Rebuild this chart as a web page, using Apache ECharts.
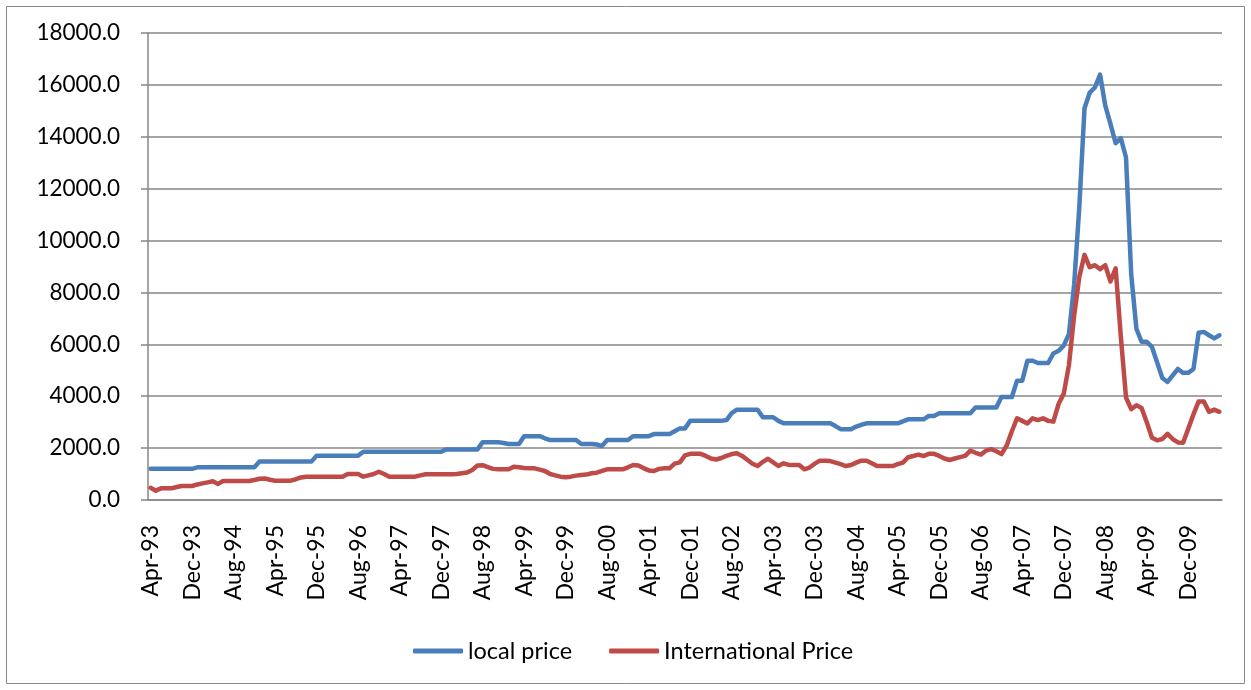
<!DOCTYPE html>
<html>
<head>
<meta charset="utf-8">
<script src="https://cdn.jsdelivr.net/npm/echarts@6/dist/echarts.min.js"></script>
<style>
  html, body { margin: 0; padding: 0; background: #fff; }
  #chart { width: 1251px; height: 690px; }
</style>
</head>
<body>
<div id="chart"></div>
<script>
// Monthly prices, Apr-93 through Jun-10
const monthNames = ['Jan','Feb','Mar','Apr','May','Jun','Jul','Aug','Sep','Oct','Nov','Dec'];
const startYear = 1993, startMonth = 3, monthCount = 207;

const localPrice = [
  1200,1200,1200,1200,1200,1200,1200,1200,1200,1260,1260,1260,
  1260,1260,1260,1260,1260,1260,1260,1260,1260,1480,1480,1480,
  1480,1480,1480,1480,1480,1480,1480,1480,1710,1710,1710,1710,
  1710,1710,1710,1710,1710,1860,1860,1860,1860,1860,1860,1860,
  1860,1860,1860,1860,1860,1860,1860,1860,1860,1950,1950,1950,
  1950,1950,1950,1950,2230,2230,2230,2230,2200,2160,2160,2160,
  2460,2460,2460,2460,2380,2310,2310,2310,2310,2310,2310,2160,
  2160,2160,2140,2080,2310,2310,2310,2310,2310,2460,2460,2460,
  2460,2540,2540,2540,2540,2650,2760,2760,3050,3050,3050,3050,
  3050,3050,3050,3080,3350,3480,3480,3480,3480,3480,3190,3190,
  3190,3050,2955,2955,2955,2955,2955,2955,2955,2955,2955,2955,
  2850,2730,2730,2730,2830,2900,2955,2955,2955,2955,2955,2955,
  2955,3030,3110,3110,3110,3110,3240,3240,3340,3340,3340,3340,
  3340,3340,3340,3570,3570,3570,3570,3570,3970,3970,3970,4600,
  4600,5370,5370,5280,5280,5280,5650,5750,5950,6400,8300,11300,
  15100,15700,15900,16400,15200,14500,13750,13950,13200,8700,6600,6100,
  6100,5900,5300,4700,4550,4800,5050,4900,4900,5050,6450,6480,
  6350,6230,6350
];

const internationalPrice = [
  470,360,450,450,450,500,540,540,540,600,640,680,
  720,620,735,735,735,735,735,735,770,820,830,780,
  745,745,745,745,800,870,900,900,900,900,900,900,
  900,900,1000,1000,1000,900,950,1000,1090,1000,900,900,
  900,900,900,900,950,990,990,990,990,990,990,1000,
  1030,1060,1156,1330,1340,1270,1200,1182,1182,1182,1285,1260,
  1230,1220,1220,1170,1118,1000,950,900,874,900,940,964,
  980,1030,1054,1120,1182,1182,1182,1182,1260,1349,1330,1230,
  1140,1118,1200,1220,1220,1400,1450,1720,1780,1780,1780,1700,
  1600,1560,1620,1700,1770,1800,1700,1550,1400,1310,1470,1590,
  1450,1310,1414,1350,1349,1349,1183,1250,1400,1516,1516,1500,
  1440,1380,1310,1350,1440,1516,1516,1420,1310,1310,1310,1310,
  1380,1440,1650,1696,1750,1696,1780,1780,1700,1600,1542,1600,
  1650,1700,1900,1820,1750,1900,1960,1880,1770,2100,2650,3150,
  3050,2950,3150,3080,3150,3050,3020,3700,4100,5200,7100,8600,
  9450,8970,9050,8900,9050,8420,8930,6300,3950,3500,3650,3550,
  3000,2400,2300,2350,2550,2350,2220,2210,2750,3300,3800,3800,
  3400,3480,3400
];

const yTicks = [0, 2000, 4000, 6000, 8000, 10000, 12000, 14000, 16000, 18000];

const categories = [];
for (let k = 0; k < monthCount; k++) {
  const m = (startMonth + k) % 12;
  const y = startYear + Math.floor((startMonth + k) / 12);
  categories.push(monthNames[m] + '-' + String(y % 100).padStart(2, '0'));
}

const FONT = 'Lato, "Liberation Sans", sans-serif';
const GRID_COLOR = '#878787';

const chart = echarts.init(document.getElementById('chart'), null, { renderer: 'canvas' });
chart.setOption({
  animation: false,
  backgroundColor: '#ffffff',
  textStyle: { fontFamily: FONT },
  graphic: [{
    type: 'rect',
    shape: { x: 6.5, y: 6.5, width: 1238, height: 677 },
    style: { fill: null, stroke: '#8a8a8a', lineWidth: 1 },
    silent: true
  }],
  grid: { left: 148, right: 29, top: 33, bottom: 190, containLabel: false, outerBoundsMode: 'none' },
  legend: {
    data: ['local price', 'International Price'],
    left: 408,
    top: 634,
    icon: 'roundRect',
    itemWidth: 50,
    itemHeight: 5,
    itemGap: 37,
    textStyle: { fontFamily: FONT, fontSize: 23.5, color: '#000' }
  },
  xAxis: {
    type: 'category',
    data: categories,
    boundaryGap: true,
    axisLine: { lineStyle: { color: GRID_COLOR, width: 1.5 } },
    axisTick: { interval: 7, length: 6, lineStyle: { color: GRID_COLOR, width: 1.5 } },
    axisLabel: {
      interval: 7,
      rotate: 90,
      margin: 25,
      fontFamily: FONT,
      fontSize: 23,
      color: '#000'
    },
    splitLine: { show: false }
  },
  yAxis: {
    type: 'value',
    min: yTicks[0],
    max: yTicks[yTicks.length - 1],
    interval: 2000,
    axisLine: { show: true, lineStyle: { color: GRID_COLOR, width: 1.5 } },
    axisTick: { show: true, length: 7, lineStyle: { color: GRID_COLOR, width: 1.5 } },
    axisLabel: {
      margin: 28,
      fontFamily: FONT,
      fontSize: 22.5,
      color: '#000',
      formatter: v => v.toFixed(1)
    },
    splitLine: { lineStyle: { color: GRID_COLOR, width: 1.5 } }
  },
  series: [
    {
      name: 'local price',
      type: 'line',
      data: localPrice,
      symbol: 'none',
      color: '#4A7EBB',
      lineStyle: { width: 4.5, color: '#4A7EBB', cap: 'round', join: 'round' }
    },
    {
      name: 'International Price',
      type: 'line',
      data: internationalPrice,
      symbol: 'none',
      color: '#BE4B48',
      lineStyle: { width: 4.5, color: '#BE4B48', cap: 'round', join: 'round' }
    }
  ]
});
</script>
</body>
</html>
